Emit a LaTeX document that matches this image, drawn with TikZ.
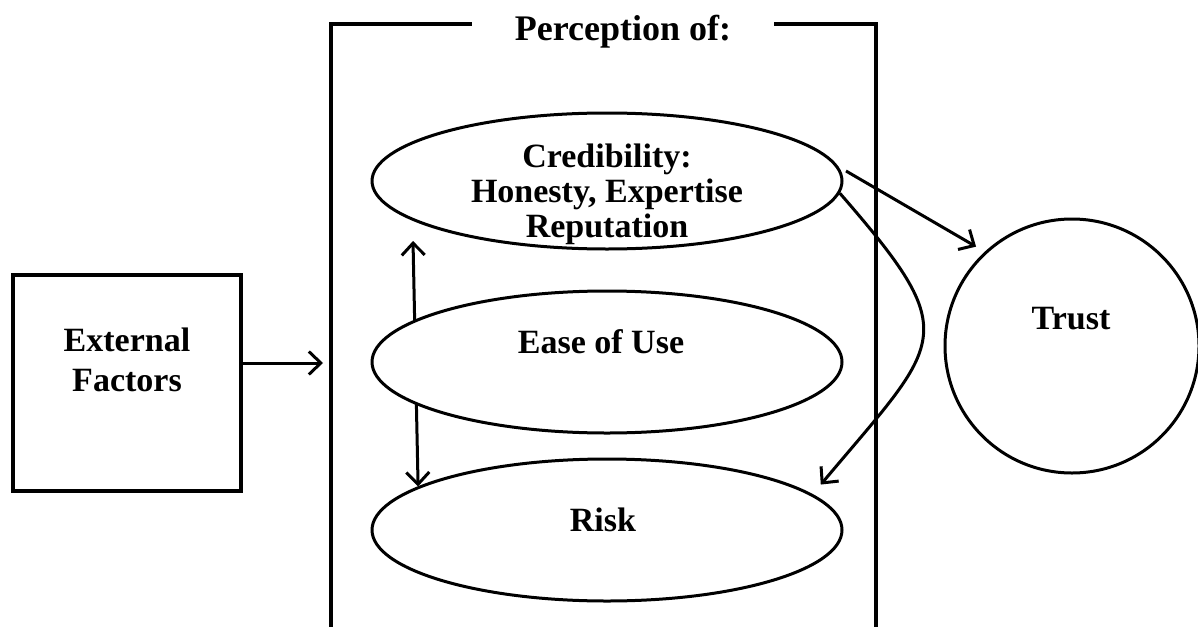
\documentclass[tikz,border=0pt]{standalone}
\usepackage{fontspec}
\setmainfont{Liberation Serif}
\usetikzlibrary{arrows.meta,calc,shapes.geometric}
\pgfdeclarelayer{background}
\pgfdeclarelayer{paper}
\pgfsetlayers{paper,background,main}

\tikzset{
  lbl/.style={font=\fontsize{34}{38}\selectfont\bfseries, inner sep=0pt, anchor=base},
  oval/.style={ellipse, draw, line width=3pt, fill=white, inner sep=0pt,
               minimum width=470pt, minimum height=138pt},
  frame/.style={line width=3.2pt},
  arr/.style={line width=3pt, -{Straight Barb[length=12pt,width=23pt]}},
  dblarr/.style={line width=3pt, {Straight Barb[length=12pt,width=23pt]}-{Straight Barb[length=12pt,width=23pt]}},
}

\begin{document}
\begin{tikzpicture}[x=1pt, y=-1pt]
  \useasboundingbox (0,0) rectangle (1198,626);
  \begin{pgfonlayer}{paper}
    \fill[white] (0,0) rectangle (1198,626);
  \end{pgfonlayer}
  \clip (0,0) rectangle (1198,626);

  % External factors box
  \node[draw, line width=3.6pt, minimum width=228pt, minimum height=216pt, inner sep=0pt]
    (ext) at (127,383) {};
  \node[lbl] (ext1) at (127,351) {External};
  \node[lbl] (ext2) at (127,391) {Factors};

  % Open frame around the perceptions
  \coordinate (frameNW) at (331,24);
  \coordinate (frameNE) at (876,24);
  \node[lbl, font=\fontsize{36}{40}\selectfont\bfseries] (percep) at (623,41) {Perception of:};
  \draw[frame] ($(percep.west |- frameNW)+(-43,0)$) -- (frameNW) -- ++(0,610);
  \draw[frame] ($(percep.east |- frameNE)+(43,0)$) -- (frameNE) -- ++(0,610);

  % Perception ovals
  \node[oval, minimum height=136pt] (cred) at (607,181) {};
  \node[oval, minimum height=142pt] (ease) at (607,362) {};
  \node[oval, minimum height=142pt] (risk) at (607,530) {};

  \node[lbl] (cred1) at (607,167) {Credibility:};
  \node[lbl] (cred2) at (607,202) {Honesty, Expertise};
  \node[lbl] (cred3) at (607,237) {Reputation};
  \node[lbl] (easel) at (601,353) {Ease of Use};
  \node[lbl] (riskl) at (603,531) {Risk};

  % Trust
  \node[circle, draw, line width=3pt, minimum size=254pt, inner sep=0pt] (trust) at (1072,346) {};
  \node[lbl] (trustl) at (1071,329) {Trust};

  % Connectors
  \draw[arr] ($(ext.east)+(0,-20)$) -- ($(ext.east -| frameNW)+(-8,-20)$);
  \draw[arr] ($(cred.center)+(239,-10)$) -- ($(trust.center)!1.075!(trust.134)$);
  \draw[arr] (cred.-3) .. controls +(-49:190pt) and +(50:190pt) ..
             ($(risk.center)!1.1!(risk.12.6)$);

  % the two-way link runs behind the middle oval
  \begin{pgfonlayer}{background}
    \draw[dblarr] ($(cred.center)+(-194,60)$) -- (risk.167.5);
  \end{pgfonlayer}
\end{tikzpicture}
\end{document}
